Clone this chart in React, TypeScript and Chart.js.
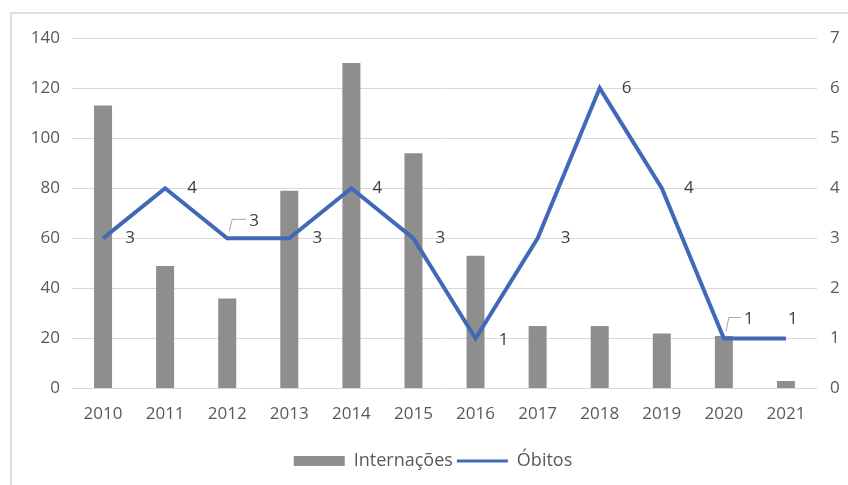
import React, { useEffect, useRef } from "react";
import { Chart, registerables } from "chart.js";

Chart.register(...registerables);

const YEARS = ["2010", "2011", "2012", "2013", "2014", "2015", "2016", "2017", "2018", "2019", "2020", "2021"];
const INTERNACOES = [113, 49, 36, 79, 130, 94, 53, 25, 25, 22, 21, 3];
const OBITOS = [3, 4, 3, 3, 4, 3, 1, 3, 6, 4, 1, 1];
const LEFT_TICKS = { min: 0, max: 140, step: 20 };
const RIGHT_TICKS = { min: 0, max: 7, step: 1 };

// label placement for Óbitos values: [dx, dy, leader]
const LABEL_PLACEMENT: [number, number, boolean][] = [
  [27, 0, false], [27, 0, false], [27, -17, true], [28, 0, false], [26, 0, false], [27, 0, false],
  [28, 2, false], [28, 0, false], [27, 0, false], [27, 0, false], [25, -19, true], [7, -19, false],
];

const FONT = "'Open Sans', 'Liberation Sans', sans-serif";
const BAR_COLOR = "#8e8e8e";
const LINE_COLOR = "#4169b8";
const TEXT_COLOR = "#595959";

const labelPlugin = {
  id: "obitosLabels",
  afterDatasetsDraw(chart: any) {
    const meta = chart.getDatasetMeta(1);
    const ctx = chart.ctx;
    ctx.save();
    ctx.font = `17px ${FONT}`;
    ctx.fillStyle = "#404040";
    ctx.textAlign = "center";
    ctx.textBaseline = "middle";
    meta.data.forEach((pt: any, i: number) => {
      const [dx, dy, leader] = LABEL_PLACEMENT[i];
      const v = chart.data.datasets[1].data[i];
      if (leader) {
        ctx.beginPath();
        ctx.strokeStyle = "#a6a6a6";
        ctx.lineWidth = 1;
        ctx.moveTo(pt.x + 2, pt.y - 7);
        ctx.lineTo(pt.x + 5, pt.y + dy - 2);
        ctx.lineTo(pt.x + dx - 8, pt.y + dy - 2);
        ctx.stroke();
      }
      ctx.fillText(String(v), pt.x + dx, pt.y + dy);
    });
    ctx.restore();
  },
};

export default function App() {
  const ref = useRef<HTMLCanvasElement>(null);
  useEffect(() => {
    if (!ref.current) return;
    const chart = new Chart(ref.current, {
      type: "bar",
      data: {
        labels: YEARS,
        datasets: [
          {
            type: "bar",
            label: "Internações",
            data: INTERNACOES,
            backgroundColor: BAR_COLOR,
            borderWidth: 0,
            barPercentage: 0.29,
            categoryPercentage: 1,
            yAxisID: "y",
            order: 1,
          },
          {
            type: "line",
            label: "Óbitos",
            data: OBITOS,
            borderColor: LINE_COLOR,
            backgroundColor: LINE_COLOR,
            borderWidth: 4,
            pointRadius: 0,
            tension: 0,
            yAxisID: "y1",
            order: 0,
          } as any,
        ],
      },
      options: {
        animation: false,
        responsive: false,
        maintainAspectRatio: false,
        layout: { padding: { top: 38, bottom: 5, left: 18, right: 0 } },
        plugins: {
          tooltip: { enabled: false },
          legend: {
            position: "bottom",
            labels: {
              usePointStyle: true,
              pointStyleWidth: 51,
              boxHeight: 10,
              padding: 4,
              color: TEXT_COLOR,
              font: { family: FONT, size: 18 },
              sort: (a: any, b: any) => a.datasetIndex - b.datasetIndex,
              generateLabels: (ch: any) =>
                ch.data.datasets.map((d: any, i: number) => ({
                  text: d.label,
                  datasetIndex: i,
                  fillStyle: i === 0 ? BAR_COLOR : "rgba(0,0,0,0)",
                  strokeStyle: i === 0 ? BAR_COLOR : LINE_COLOR,
                  lineWidth: i === 0 ? 0 : 3,
                  pointStyle: i === 0 ? "rect" : "line",
                  hidden: false,
                  fontColor: TEXT_COLOR,
                })),
            },
          },
        },
        scales: {
          x: {
            grid: { display: false },
            border: { display: false },
            ticks: { color: TEXT_COLOR, font: { family: FONT, size: 17 }, padding: 7, maxRotation: 0 },
            afterFit: (s: any) => { s.height = s.height + 17; },
          },
          y: {
            position: "left",
            min: LEFT_TICKS.min,
            max: LEFT_TICKS.max,
            grid: { color: "#d9d9d9", drawTicks: false, lineWidth: 1 },
            border: { display: false },
            ticks: { stepSize: LEFT_TICKS.step, color: TEXT_COLOR, font: { family: FONT, size: 17 }, padding: 12 },
            afterFit: (s: any) => { s.width = 54; },
          },
          y1: {
            position: "right",
            min: RIGHT_TICKS.min,
            max: RIGHT_TICKS.max,
            grid: { drawOnChartArea: false, drawTicks: false },
            border: { display: false },
            ticks: { stepSize: RIGHT_TICKS.step, color: TEXT_COLOR, font: { family: FONT, size: 17 }, padding: 13 },
            afterFit: (s: any) => { s.width = 31; },
          },
        },
      },
      plugins: [labelPlugin],
    });
    return () => chart.destroy();
  }, []);

  return (
    <div style={{ position: "fixed", left: 0, top: 0, width: 848, height: 485, background: "#fff", overflow: "hidden" }}>
      <div style={{ position: "absolute", left: 10, top: 12, width: 860, height: 500, border: "2px solid #e0e0e0" }} />
      <canvas ref={ref} width={848} height={485} style={{ position: "absolute", left: 0, top: 0 }} />
    </div>
  );
}
